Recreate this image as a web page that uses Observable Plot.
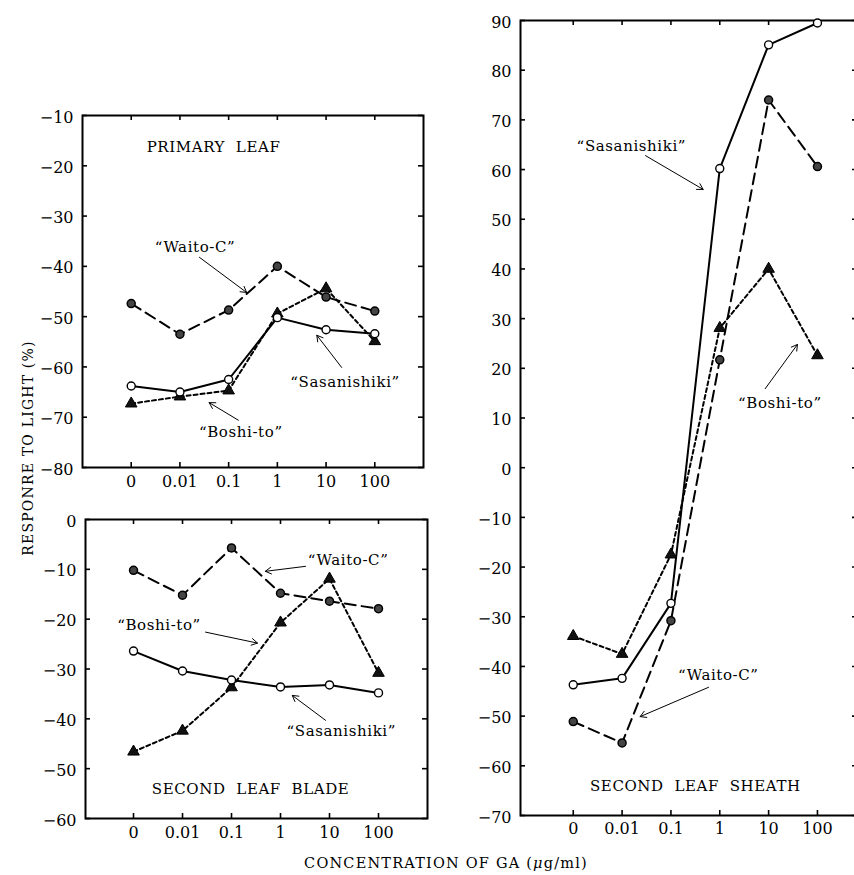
<!DOCTYPE html>
<html><head><meta charset="utf-8">
<script src="https://cdn.jsdelivr.net/npm/d3@7"></script>
<script src="https://cdn.jsdelivr.net/npm/@observablehq/plot@0.6"></script>
<style>
body{margin:0;background:#fff;}
#wrap{position:relative;width:854px;height:875px;overflow:hidden;background:#fff;font-family:"DejaVu Serif",serif;color:#000;}
.panel{position:absolute;}
#ytitle{position:absolute;left:-122px;top:440px;width:300px;height:16px;line-height:16px;text-align:center;font-size:14px;letter-spacing:1.2px;transform:rotate(-90deg);transform-origin:50% 50%;}
#xtitle{position:absolute;left:246px;top:855px;width:400px;height:16px;line-height:16px;text-align:center;font-size:14.5px;letter-spacing:1.2px;}
</style></head><body>
<div id="wrap">
  <div id="p1" class="panel" style="left:0;top:95px;width:440px;height:400px"></div>
  <div id="p2" class="panel" style="left:0;top:495px;width:440px;height:360px"></div>
  <div id="p3" class="panel" style="left:440px;top:0;width:420px;height:850px"></div>
  <div id="ytitle">RESPONRE TO LIGHT (%)</div>
  <div id="xtitle">CONCENTRATION OF GA (<i>μ</i>g/ml)</div>
</div>
<script>
// Categories (GA concentration, µg/ml)
const concentrations = ["0", "0.01", "0.1", "1", "10", "100"];

// PRIMARY LEAF
const primarySasanishiki = [-63.8, -65.0, -62.5, -50.2, -52.6, -53.4];
const primaryWaito = [-47.4, -53.5, -48.7, -40.0, -46.1, -48.9];
const primaryBoshi = [-67.3, -65.9, -64.7, -49.4, -44.4, -54.9];

// SECOND LEAF BLADE
const bladeSasanishiki = [-26.4, -30.4, -32.2, -33.6, -33.2, -34.8];
const bladeWaito = [-10.2, -15.2, -5.7, -14.8, -16.4, -17.9];
const bladeBoshi = [-46.6, -42.4, -33.7, -20.7, -11.9, -30.8];

// SECOND LEAF SHEATH
const sheathSasanishiki = [-43.7, -42.4, -27.3, 60.2, 85.1, 89.5];
const sheathWaito = [-51.1, -55.4, -30.8, 21.7, 74.0, 60.6];
const sheathBoshi = [-33.9, -37.5, -17.5, 28.1, 40.0, 22.6];

// Tick values
const primaryTicks = [-10, -20, -30, -40, -50, -60, -70, -80];
const bladeTicks = [0, -10, -20, -30, -40, -50, -60];
const sheathTicks = [90, 80, 70, 60, 50, 40, 30, 20, 10, 0, -10, -20, -30, -40, -50, -60, -70];

// Annotations (data coordinates: x = concentration index, y = response)
const primaryNotes = [
  {x: 1.31, y: -36.2, text: "“Waito-C”"},
  {x: 4.39, y: -63.1, text: "“Sasanishiki”"},
  {x: 2.25, y: -73.0, text: "“Boshi-to”"}
];
const primaryArrows = [
  {x1: 1.40, y1: -38.2, x2: 2.37, y2: -45.2},
  {x1: 4.32, y1: -60.1, x2: 3.81, y2: -53.7},
  {x1: 2.20, y1: -70.6, x2: 1.60, y2: -67.1}
];
const bladeNotes = [
  {x: 4.38, y: -8.2, text: "“Waito-C”"},
  {x: 0.52, y: -21.2, text: "“Boshi-to”"},
  {x: 4.24, y: -42.5, text: "“Sasanishiki”"}
];
const bladeArrows = [
  {x1: 3.51, y1: -9.4, x2: 2.69, y2: -10.4},
  {x1: 1.47, y1: -22.6, x2: 2.53, y2: -24.8},
  {x1: 3.92, y1: -40.3, x2: 3.24, y2: -35.3}
];
const sheathNotes = [
  {x: 1.19, y: 64.8, text: "“Sasanishiki”"},
  {x: 4.23, y: 12.9, text: "“Boshi-to”"},
  {x: 2.97, y: -41.8, text: "“Waito-C”"}
];
const sheathArrows = [
  {x1: 1.48, y1: 62.8, x2: 2.66, y2: 56.0},
  {x1: 3.93, y1: 15.9, x2: 4.59, y2: 24.8},
  {x1: 2.77, y1: -44.2, x2: 1.37, y2: -50.1}
];
const panelTitles = [
  {panel: "p1", x: 1.69, y: -16.4, text: "PRIMARY\u00a0\u00a0LEAF"},
  {panel: "p2", x: 2.39, y: -54.2, text: "SECOND\u00a0\u00a0LEAF\u00a0\u00a0BLADE"},
  {panel: "p3", x: 2.5, y: -64.2, text: "SECOND\u00a0\u00a0LEAF\u00a0\u00a0SHEATH"}
];

const rows = arr => arr.map((v, i) => ({i, v}));
const xIdx = d3.range(concentrations.length);

function panel({id, width, height, margins, xDomain, yDomain, yTicks, sas, wai, bos, notes, arrows, xPad}) {
  const title = panelTitles.filter(t => t.panel === id);
  const T = 5; // inward tick length
  const fw = width - margins[0] - margins[1];
  const fh = height - margins[2] - margins[3];
  const plot = Plot.plot({
    width, height,
    marginLeft: margins[0], marginRight: margins[1], marginTop: margins[2], marginBottom: margins[3],
    style: {fontFamily: "DejaVu Serif, serif", fontSize: "16px", background: "transparent", maxWidth: "none", color: "black", overflow: "visible"},
    x: {type: "linear", domain: xDomain, axis: null},
    y: {type: "linear", domain: yDomain, axis: null},
    marks: [
      Plot.frame({stroke: "black", strokeWidth: 2}),
      Plot.axisY(yTicks, {anchor: "left", tickSize: 0, tickPadding: 9, dy: 2, fontSize: 16, label: null}),
      Plot.axisX(xIdx, {anchor: "bottom", tickSize: 0, tickPadding: xPad, fontSize: 16, tickFormat: i => concentrations[i], label: null}),
      // inward ticks on all four sides
      Plot.ruleY(yTicks, {y: d => d, insetRight: fw - T, stroke: "black", strokeWidth: 1.6}),
      Plot.ruleY(yTicks, {y: d => d, insetLeft: fw - T, stroke: "black", strokeWidth: 1.6}),
      Plot.ruleX(xIdx, {x: d => d, insetTop: fh - T, stroke: "black", strokeWidth: 1.6}),
      Plot.ruleX(xIdx, {x: d => d, insetBottom: fh - T, stroke: "black", strokeWidth: 1.6}),
      Plot.line(rows(sas), {x: "i", y: "v", stroke: "black", strokeWidth: 2}),
      Plot.line(rows(wai), {x: "i", y: "v", stroke: "black", strokeWidth: 2, strokeDasharray: "11,6"}),
      Plot.line(rows(bos), {x: "i", y: "v", stroke: "black", strokeWidth: 2, strokeDasharray: "4,3"}),
      Plot.dot(rows(wai), {x: "i", y: "v", r: 4, fill: "#444", stroke: "black", strokeWidth: 1.5}),
      Plot.dot(rows(bos), {x: "i", y: "v", r: 4.3, symbol: "triangle", fill: "#111", stroke: "black", strokeWidth: 1}),
      Plot.dot(rows(sas), {x: "i", y: "v", r: 4, fill: "white", stroke: "black", strokeWidth: 1.4}),
      Plot.arrow(arrows, {x1: "x1", y1: "y1", x2: "x2", y2: "y2", stroke: "black", strokeWidth: 1, headLength: 10}),
      Plot.text(notes, {x: "x", y: "y", text: "text", fontSize: 15}),
      Plot.text(title, {x: "x", y: "y", text: "text", fontSize: 15})
    ]
  });
  d3.select(plot).selectAll('g[aria-label="text"] text').style("letter-spacing", "0.6px");
  document.getElementById(id).appendChild(plot);
}

panel({id: "p1", width: 440, height: 400, margins: [82, 17, 20, 28], xDomain: [-1, 6], yDomain: [-80, -10],
  yTicks: primaryTicks, sas: primarySasanishiki, wai: primaryWaito, bos: primaryBoshi,
  notes: primaryNotes, arrows: primaryArrows, xPad: 8});
panel({id: "p2", width: 440, height: 360, margins: [85, 13, 24, 37], xDomain: [-0.98, 6], yDomain: [-60, 0],
  yTicks: bladeTicks, sas: bladeSasanishiki, wai: bladeWaito, bos: bladeBoshi,
  notes: bladeNotes, arrows: bladeArrows, xPad: 8});
panel({id: "p3", width: 420, height: 850, margins: [80, 3, 20, 35], xDomain: [-1.08, 5.82], yDomain: [-70, 90],
  yTicks: sheathTicks, sas: sheathSasanishiki, wai: sheathWaito, bos: sheathBoshi,
  notes: sheathNotes, arrows: sheathArrows, xPad: 7});
</script>
</body></html>
